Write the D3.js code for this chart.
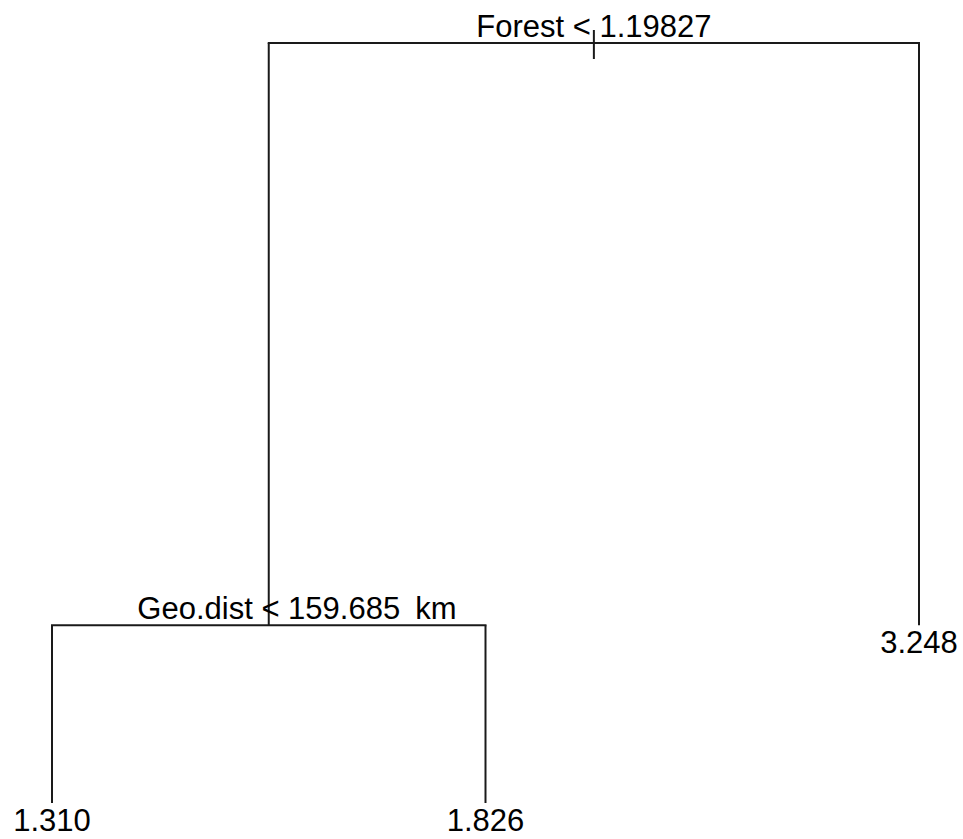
<!DOCTYPE html>
<html>
<head>
<meta charset="utf-8">
<script src="https://cdn.jsdelivr.net/npm/d3@7"></script>
<style>
  html, body { margin: 0; padding: 0; background: #ffffff; }
  svg { display: block; }
  text { font-family: "Liberation Sans", Arial, sans-serif; font-size: 31px; fill: #000; }
</style>
</head>
<body>
<svg id="chart" width="963" height="839"></svg>
<script>
// ---- data (regression tree) ----
const nodeIds      = ["root", "geo", "leafA", "leafB", "leafC"];
const nodeParents  = [null, "root", "geo", "geo", "root"];
const splitLabels  = ["Forest < 1.19827", "Geo.dist < 159.685", null, null, null];
const splitUnits   = [null, "km", null, null, null];
const leafValues   = [null, null, "1.310", "1.826", "3.248"];
const leafOrder    = [null, null, 1, 2, 3];
const nodeDeviance = [95.0, 33.7, 15.0, 15.0, 33.7];

// ---- build hierarchy ----
const table = nodeIds.map((id, i) => ({
  id, parent: nodeParents[i], split: splitLabels[i], unit: splitUnits[i],
  value: leafValues[i], order: leafOrder[i], dev: nodeDeviance[i]
}));
const root = d3.stratify().id(d => d.id).parentId(d => d.parent)(table);

// x position: leaves at their order, internal nodes at mean of children
root.eachAfter(n => {
  n.tx = n.children ? d3.mean(n.children, c => c.tx) : n.data.order;
});

const x = d3.scaleLinear().domain([1, 3]).range([52, 919]);
const y = d3.scaleLinear().domain([95.0, 15.0]).range([43, 803]);

const svg = d3.select("#chart");
const g = svg.append("g");
const stroke = "#1a1a1a";

// branches: horizontal bar at parent level + verticals to children
root.each(n => {
  if (!n.children) return;
  const py = y(n.data.dev);
  const xs = n.children.map(c => x(c.tx));
  g.append("line")
    .attr("x1", d3.min(xs) - 1).attr("x2", d3.max(xs) + 1)
    .attr("y1", py).attr("y2", py)
    .attr("stroke", stroke).attr("stroke-width", 2);
  n.children.forEach(c => {
    g.append("line")
      .attr("x1", x(c.tx)).attr("x2", x(c.tx))
      .attr("y1", py).attr("y2", y(c.data.dev))
      .attr("stroke", stroke).attr("stroke-width", 2);
  });
});

// root stub
g.append("line")
  .attr("x1", x(root.tx)).attr("x2", x(root.tx))
  .attr("y1", y(root.data.dev) - 13).attr("y2", y(root.data.dev) + 16)
  .attr("stroke", stroke).attr("stroke-width", 2);

// split labels
root.each(n => {
  if (!n.data.split) return;
  const t = g.append("text")
    .attr("x", x(n.tx)).attr("y", y(n.data.dev) - 6)
    .attr("text-anchor", "middle")
    .text(n.data.split);
  if (n.data.unit) {
    const w = t.node().getComputedTextLength();
    g.append("text")
      .attr("x", x(n.tx) + w / 2 + 15).attr("y", y(n.data.dev) - 6)
      .text(n.data.unit);
  }
});

// leaf labels
root.leaves().forEach(n => {
  g.append("text")
    .attr("x", x(n.tx)).attr("y", y(n.data.dev) + 28)
    .attr("text-anchor", "middle")
    .text(n.data.value);
});
</script>
</body>
</html>
